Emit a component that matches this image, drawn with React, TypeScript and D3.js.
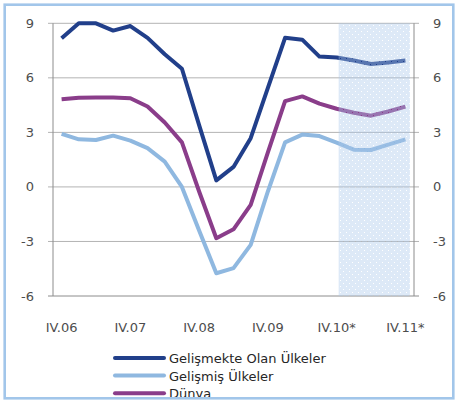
import React from "react";
import * as d3 from "d3";

// Quarterly periods, IV.2006 through IV.2011 (starred = forecast)
const periods = [
  "IV.06", "I.07", "II.07", "III.07", "IV.07",
  "I.08", "II.08", "III.08", "IV.08",
  "I.09", "II.09", "III.09", "IV.09",
  "I.10", "II.10", "III.10", "IV.10*",
  "I.11", "II.11", "III.11", "IV.11*",
];
const tickPeriods = ["IV.06", "IV.07", "IV.08", "IV.09", "IV.10*", "IV.11*"];
const forecastFrom = "IV.10*";

const emerging = [8.18, 9.0, 9.0, 8.6, 8.85, 8.2, 7.3, 6.5, 3.4, 0.36, 1.1, 2.68, 5.45, 8.2, 8.1, 7.17, 7.12, 6.95, 6.76, 6.85, 6.95];
const advanced = [2.92, 2.62, 2.58, 2.82, 2.55, 2.13, 1.39, 0.0, -2.4, -4.75, -4.47, -3.19, -0.25, 2.45, 2.88, 2.8, 2.44, 2.05, 2.03, 2.33, 2.62];
const world = [4.82, 4.91, 4.92, 4.92, 4.88, 4.42, 3.54, 2.45, -0.25, -2.82, -2.33, -0.99, 1.9, 4.72, 4.98, 4.58, 4.3, 4.08, 3.92, 4.15, 4.42];

const yTicks = [9, 6, 3, 0, -3, -6];

const series = [
  { name: "Gelişmekte Olan Ülkeler", values: emerging, color: "#213f8a" },
  { name: "Gelişmiş Ülkeler", values: advanced, color: "#8fb8e0" },
  { name: "Dünya", values: world, color: "#8a3d8a" },
];
// drawing order (back to front)
const drawOrder = [1, 2, 0];

const W = 455;
const H = 402;
const plot = { left: 53, right: 414, top: 23.3, bottom: 296 };
const font = "'DejaVu Sans', sans-serif";
const textColor = "#4d4d4d";

export default function App() {
  const x = d3.scaleBand<string>().domain(periods).range([plot.left, plot.right]);
  const cx = (p: string) => (x(p) as number) + x.bandwidth() / 2;
  const y = d3.scaleLinear().domain([-6, 9]).range([plot.bottom, plot.top]);

  const line = d3
    .line<number>()
    .x((_, i) => cx(periods[i]))
    .y((v) => y(v));

  const shadeX0 = cx(forecastFrom) + 2;
  const shadeX1 = cx(periods[periods.length - 1]) + 4.5;

  const legendY0 = 358;
  const legendStep = 17.6;

  return (
    <svg
      width={W}
      height={H}
      style={{ position: "absolute", left: 0, top: 0, background: "#fff" }}
      fontFamily={font}
    >
      <defs>
        {/* translucent veil with sparse staggered pin-holes */}
        <pattern id="forecastDots" width={6} height={6} patternUnits="userSpaceOnUse">
          <path
            d="M0,0H6V6H0Z M1,1H2V2H1Z M4,4H5V5H4Z"
            fillRule="evenodd"
            fill="rgba(170,200,235,0.4)"
          />
        </pattern>
        <clipPath id="frameClip">
          <rect x={5} y={5} width={447} height={392} />
        </clipPath>
      </defs>

      {/* grid lines and ticks */}
      {yTicks.map((t) => (
        <line
          key={t}
          x1={plot.left - 5}
          x2={plot.right + 5}
          y1={y(t)}
          y2={y(t)}
          stroke={t === -6 ? "#8c8c8c" : "#b3b3b3"}
          strokeWidth={1}
        />
      ))}
      <line x1={plot.left} x2={plot.left} y1={plot.top} y2={plot.bottom} stroke="#8c8c8c" />
      <line x1={plot.right} x2={plot.right} y1={plot.top} y2={plot.bottom} stroke="#8c8c8c" />

      {/* left and right axis labels */}
      {yTicks.map((t) => (
        <g key={"l" + t} fontSize={13} fill={textColor}>
          <text x={34} y={y(t) + 4.5} textAnchor="end">{t}</text>
          <text x={433} y={y(t) + 4.5} textAnchor="start">{t}</text>
        </g>
      ))}

      {/* series lines */}
      {drawOrder.map((i) => (
        <path
          key={series[i].name}
          d={line(series[i].values) || ""}
          fill="none"
          stroke={series[i].color}
          strokeWidth={4}
          strokeLinejoin="round"
        />
      ))}

      {/* forecast band */}
      <rect
        x={shadeX0}
        y={plot.top}
        width={shadeX1 - shadeX0}
        height={plot.bottom - plot.top}
        fill="url(#forecastDots)"
      />

      {/* x axis labels */}
      {tickPeriods.map((p) => (
        <text
          key={p}
          x={cx(p)}
          y={332}
          textAnchor="middle"
          fontSize={13}
          fill={textColor}
        >
          {p}
        </text>
      ))}

      {/* legend */}
      <g clipPath="url(#frameClip)">
        {series.map((s, i) => (
          <g key={s.name} transform={`translate(0,${legendY0 + i * legendStep})`}>
            <line x1={115} x2={164} y1={0} y2={0} stroke={s.color} strokeWidth={4} strokeLinecap="round" />
            <text x={169} y={5} fontSize={13} fill="#262626">{s.name}</text>
          </g>
        ))}
      </g>

      {/* outer frame */}
      <rect x={4.7} y={4.7} width={448.6} height={393.6} fill="none" stroke="#a2c6ea" strokeWidth={2.6} />
    </svg>
  );
}
